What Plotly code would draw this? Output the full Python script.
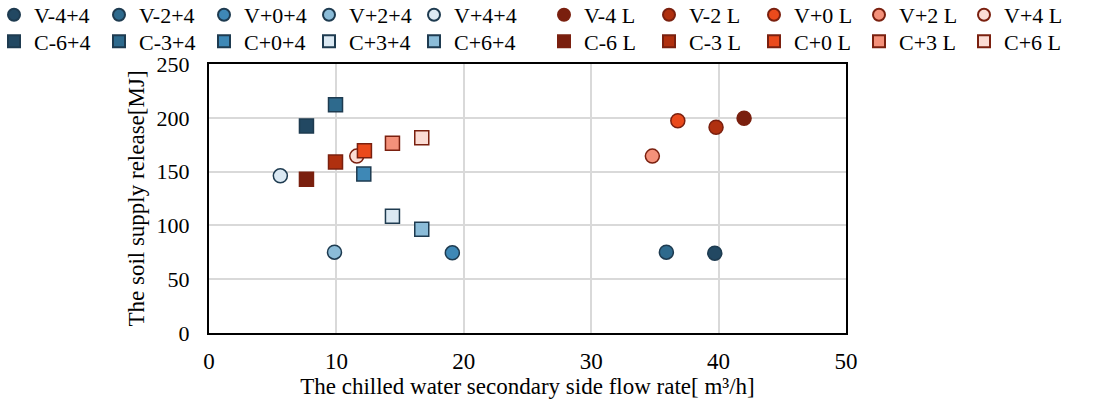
import plotly.graph_objects as go

# Data
v_names_blue = ["V-4+4", "V-2+4", "V+0+4", "V+2+4", "V+4+4"]
v_x_blue = [39.7, 35.9, 19.1, 9.85, 5.6]
v_y_blue = [74.2, 75.1, 74.5, 75.1, 146.1]

v_names_red = ["V-4 L", "V-2 L", "V+0 L", "V+2 L", "V+4 L"]
v_x_red = [42.0, 39.8, 36.8, 34.8, 11.6]
v_y_red = [199.5, 191.2, 197.3, 164.4, 164.4]

c_names_blue = ["C-6+4", "C-3+4", "C+0+4", "C+3+4", "C+6+4"]
c_x_blue = [7.65, 9.93, 12.15, 14.4, 16.7]
c_y_blue = [192.4, 212.2, 147.7, 108.6, 96.5]

c_names_red = ["C-6 L", "C-3 L", "C+0 L", "C+3 L", "C+6 L"]
c_x_red = [7.65, 9.93, 12.2, 14.4, 16.7]
c_y_red = [142.8, 158.9, 169.4, 176.3, 181.5]

blue_v_colors = ["#224862", "#2e6a8d", "#3e88b6", "#8bbcd8", "#dbe9f3"]
blue_c_colors = ["#224862", "#2e6a8d", "#3e88b6", "#dbe9f3", "#8bbcd8"]
red_colors = ["#7a1f0e", "#b0300f", "#ea4a1c", "#f4917a", "#fbdcd4"]
blue_line = "#1e3b50"
red_line = "#7a200f"

fig = go.Figure()

def add(names, xs, ys, colors, line, symbol, legend):
    for n, x, y, c in zip(names, xs, ys, colors):
        fig.add_trace(go.Scatter(
            x=[x], y=[y], name=n, mode="markers", legend=legend,
            marker=dict(symbol=symbol, size=14, color=c,
                        line=dict(color=line, width=1.5)),
        ))

add(v_names_blue, v_x_blue, v_y_blue, blue_v_colors, blue_line, "circle", "legend")
add(v_names_red, v_x_red, v_y_red, red_colors, red_line, "circle", "legend2")
add(c_names_blue, c_x_blue, c_y_blue, blue_c_colors, blue_line, "square", "legend3")
add(c_names_red, c_x_red, c_y_red, red_colors, red_line, "square", "legend4")

font = "Liberation Serif, Times New Roman, serif"
FS = 22
TFS = 23
TTL = 23

def leg(x, y):
    return dict(orientation="h", x=x, xanchor="left", y=y, yanchor="middle",
                entrywidth=60, entrywidthmode="pixels",
                font=dict(size=FS, family=font), itemsizing="constant",
                tracegroupgap=0, bgcolor="rgba(0,0,0,0)")

pl, pr, pt, pb = 209, 247, 64, 70
pw = 1093 - pl - pr
ph = 403 - pt - pb

def fx(px):
    return (px - pl) / pw

def fy(py):
    return 1 + (pt - py) / ph

fig.update_layout(
    width=1093, height=403,
    margin=dict(l=pl, r=pr, t=pt, b=pb, autoexpand=False),
    paper_bgcolor="white", plot_bgcolor="white",
    font=dict(family=font, size=FS, color="black"),
    legend=leg(fx(-6), fy(15)),
    legend2=leg(fx(544), fy(15)),
    legend3=leg(fx(-6), fy(41.5)),
    legend4=leg(fx(544), fy(41.5)),
    xaxis=dict(range=[0, 50], dtick=10, showgrid=True, gridcolor="#d9d9d9", gridwidth=1.5,
               zeroline=False, showline=True, mirror=True, linecolor="black", linewidth=2,
               ticks="", ticklabelstandoff=6, tickfont=dict(size=TFS),
               title=dict(text="The chilled water secondary side flow rate[ m³/h]", standoff=0,
                          font=dict(size=TTL))),
    yaxis=dict(range=[0, 250], dtick=50, showgrid=True, gridcolor="#d9d9d9", gridwidth=1.5,
               zeroline=False, showline=True, mirror=True, linecolor="black", linewidth=2,
               ticks="", ticklabelstandoff=13, tickfont=dict(size=22),
               title=dict(text="The soil supply release[MJ]", standoff=6,
                          font=dict(size=TTL))),
)

fig.write_html("out.html")
